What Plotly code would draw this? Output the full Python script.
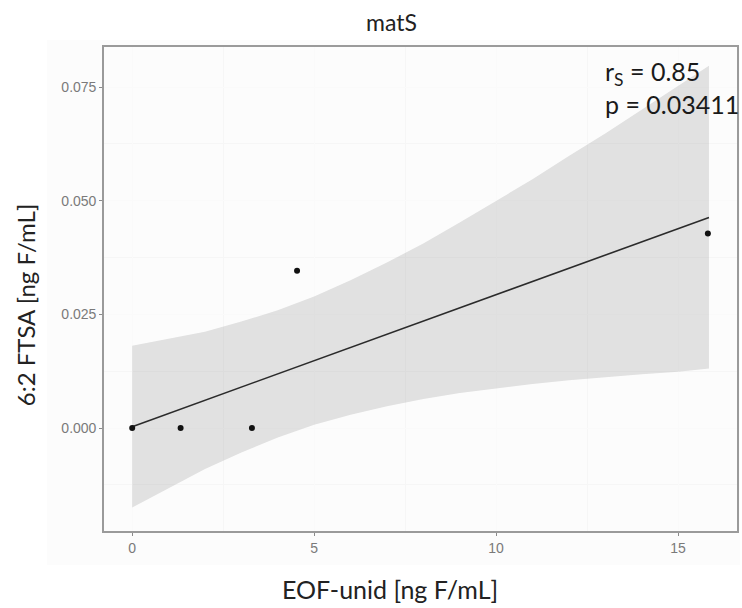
import plotly.graph_objects as go

# ---- data ----
x_points = [0, 1.33, 3.29, 4.53, 15.82]
y_points = [0.0, 0.0, 0.0, 0.0346, 0.0428]

fit_x = [0, 15.85]
fit_y = [0.0003, 0.0463]

band_x = [0, 1, 2, 3, 4, 5, 6, 7, 8, 9, 10, 11, 12, 13, 14, 15, 15.85]
band_upper = [0.0181, 0.0197, 0.0212, 0.0234, 0.0259, 0.0289, 0.0325, 0.0364, 0.0406,
              0.0452, 0.0499, 0.0547, 0.0598, 0.0648, 0.0700, 0.0752, 0.0797]
band_lower = [-0.0175, -0.0133, -0.0090, -0.0054, -0.0021, 0.0007, 0.0029, 0.0048, 0.0064,
              0.0077, 0.0087, 0.0097, 0.0105, 0.0112, 0.0118, 0.0124, 0.0131]

x_ticks = [0, 5, 10, 15]
x_tick_labels = ["0", "5", "10", "15"]
y_ticks = [0.0, 0.025, 0.05, 0.075]
y_tick_labels = ["0.000", "0.025", "0.050", "0.075"]

title_text = "matS"
x_title = "EOF-unid [ng F/mL]"
y_title = "6:2 FTSA [ng F/mL]"
stat_text = "r<sub>S</sub> = 0.85<br>p = 0.03411"

# ---- layout geometry (pixels) ----
W, H = 742, 608
L, R, T, B = 104, 3, 47, 77
pw, ph = W - L - R, H - T - B


def px(xp):
    return (xp - L) / pw


def py(yp):
    return (H - B - yp) / ph


fig = go.Figure()

fig.add_trace(go.Scatter(x=band_x, y=band_lower, mode="lines", line=dict(width=0),
                         hoverinfo="skip", showlegend=False))
fig.add_trace(go.Scatter(x=band_x, y=band_upper, mode="lines", line=dict(width=0),
                         fill="tonexty", fillcolor="rgba(150,150,150,0.27)",
                         hoverinfo="skip", showlegend=False))
fig.add_trace(go.Scatter(x=fit_x, y=fit_y, mode="lines", line=dict(color="#2b2b2b", width=1.6),
                         showlegend=False))
fig.add_trace(go.Scatter(x=x_points, y=y_points, mode="markers",
                         marker=dict(color="#111111", size=6), showlegend=False))

tick_font = dict(family="Liberation Sans, Arial, sans-serif", size=14, color="#7a7a7a")
title_font = dict(family="Lato, Open Sans, sans-serif", size=25, color="#222222")

fig.update_layout(
    width=W, height=H,
    margin=dict(l=L, r=R, t=T, b=B),
    paper_bgcolor="white",
    plot_bgcolor="#f1f1f1",
    xaxis=dict(range=[-0.775, 16.62], tickvals=x_ticks, ticktext=x_tick_labels,
               showgrid=True, gridcolor="#fafafa", gridwidth=1,
               minor=dict(dtick=2.5, showgrid=True, gridcolor="#f6f6f6", gridwidth=0.6),
               zeroline=False, showline=True, mirror=True, linecolor="#9a9a9a", linewidth=1.6,
               ticks="outside", ticklen=3, tickcolor="#8a8a8a", tickfont=tick_font),
    yaxis=dict(range=[-0.02265, 0.0838], tickvals=y_ticks, ticktext=y_tick_labels,
               showgrid=True, gridcolor="#fafafa", gridwidth=1,
               minor=dict(dtick=0.0125, showgrid=True, gridcolor="#f6f6f6", gridwidth=0.6),
               zeroline=False, showline=True, mirror=True, linecolor="#9a9a9a", linewidth=1.6,
               ticks="outside", ticklen=3, tickcolor="#8a8a8a", tickfont=tick_font),
    shapes=[dict(type="rect", xref="paper", yref="paper", layer="below",
                 x0=px(47), x1=px(742), y0=py(565), y1=py(40),
                 fillcolor="#fcfcfc", line=dict(width=0))],
    annotations=[
        dict(text=title_text, xref="paper", yref="paper", x=px(392), y=py(22),
             xanchor="center", yanchor="middle", showarrow=False,
             font=dict(family="Lato, Open Sans, sans-serif", size=23, color="#222222")),
        dict(text=x_title, xref="paper", yref="paper", x=px(391), y=py(589),
             xanchor="center", yanchor="middle", showarrow=False, font=title_font),
        dict(text=y_title, xref="paper", yref="paper", x=px(25), y=py(305),
             xanchor="center", yanchor="middle", showarrow=False, textangle=-90,
             font=dict(family="Lato, Open Sans, sans-serif", size=24, color="#222222")),
        dict(text=stat_text, xref="paper", yref="paper", x=px(605), y=py(54),
             xanchor="left", yanchor="top", align="left", showarrow=False,
             font=dict(family="Lato, Open Sans, sans-serif", size=25, color="#1a1a1a")),
    ],
)

fig.write_html("out.html")
